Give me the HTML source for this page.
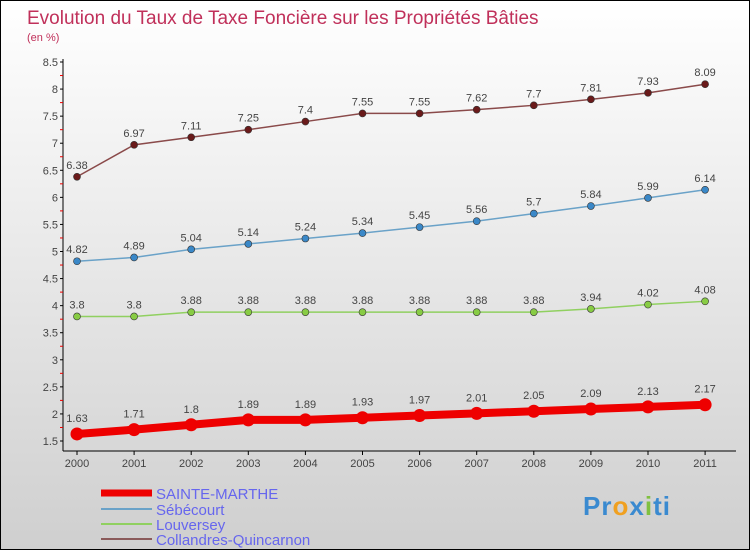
<!DOCTYPE html>
<html><head><meta charset="utf-8"><style>
body{margin:0}
#c{width:748px;height:548px;border:1px solid #000;background:linear-gradient(#ffffff,#cfcfcf);position:relative;overflow:hidden;font-family:"Liberation Sans",sans-serif}
</style></head><body>
<div id="c">
<svg id="s" width="748" height="548" xmlns="http://www.w3.org/2000/svg">
<text x="26" y="23" font-size="19" fill="#c0305a">Evolution du Taux de Taxe Foncière sur les Propriétés Bâties</text>
<text x="26" y="40" font-size="11" fill="#c0305a">(en %)</text>
<g id="axes"></g><g id="series"></g>
<g>
<line x1="100" y1="492" x2="151" y2="492" stroke="#ee0000" stroke-width="7"/>
<text x="155" y="498" font-size="15" fill="#6666ee">SAINTE-MARTHE</text>
<line x1="100" y1="508" x2="151" y2="508" stroke="#6aa2c8" stroke-width="2"/>
<text x="155" y="514" font-size="15" fill="#6666ee">Sébécourt</text>
<line x1="100" y1="523" x2="151" y2="523" stroke="#90d060" stroke-width="2"/>
<text x="155" y="529" font-size="15" fill="#6666ee">Louversey</text>
<line x1="100" y1="538" x2="151" y2="538" stroke="#8a5a5a" stroke-width="2"/>
<text x="155" y="544" font-size="15" fill="#6666ee">Collandres-Quincarnon</text>
</g>
</svg>
<div style="position:absolute;left:582px;top:490px;font-size:26px;font-weight:bold;font-family:'Liberation Sans',sans-serif;letter-spacing:1px"><span style="color:#3a8ad0">Pr</span><span style="color:#f0a020">o</span><span style="color:#3a8ad0">x</span><span style="color:#80c040">i</span><span style="color:#3a8ad0">ti</span></div>
</div>
<script>
const years=[2000,2001,2002,2003,2004,2005,2006,2007,2008,2009,2010,2011];
const sainteMarthe=[1.63,1.71,1.8,1.89,1.89,1.93,1.97,2.01,2.05,2.09,2.13,2.17];
const sebecourt=[4.82,4.89,5.04,5.14,5.24,5.34,5.45,5.56,5.7,5.84,5.99,6.14];
const louversey=[3.8,3.8,3.88,3.88,3.88,3.88,3.88,3.88,3.88,3.94,4.02,4.08];
const collandres=[6.38,6.97,7.11,7.25,7.4,7.55,7.55,7.62,7.7,7.81,7.93,8.09];
const yTicks=[1.5,2,2.5,3,3.5,4,4.5,5,5.5,6,6.5,7,7.5,8,8.5];
const NS="http://www.w3.org/2000/svg";
const xS=i=>76+i*57.1;
const yS=v=>440-(v-1.5)*(379/7);
function mk(t,a,p){const e=document.createElementNS(NS,t);for(const k in a)e.setAttribute(k,a[k]);p.appendChild(e);return e;}
const ax=document.getElementById('axes');
let e=mk('line',{x1:62,y1:58,x2:62,y2:450,stroke:'#000'},ax);


e=mk('line',{x1:62,y1:450,x2:735,y2:450,stroke:'#000'},ax);


yTicks.forEach((v,i)=>{
 mk('line',{x1:59,y1:yS(v),x2:62,y2:yS(v),stroke:'#000'},ax);
 if(i<yTicks.length-1) mk('line',{x1:59,y1:yS(v+0.25),x2:62,y2:yS(v+0.25),stroke:'#e00'},ax);
 const t=mk('text',{x:57,y:yS(v)+4,'font-size':11,fill:'#444','text-anchor':'end'},ax);t.textContent=String(v);
 
 
});
years.forEach((y,i)=>{
 mk('line',{x1:xS(i),y1:450,x2:xS(i),y2:454,stroke:'#000'},ax);
 const t=mk('text',{x:xS(i),y:466,'font-size':11,fill:'#444','text-anchor':'middle'},ax);t.textContent=y;
 
 
});
const sg=document.getElementById('series');
function series(vals,col,w,r,name,fill){
 const g=mk('g',{},sg);
 
 
 mk('polyline',{points:vals.map((v,i)=>xS(i)+','+yS(v)).join(' '),fill:'none',stroke:col,'stroke-width':w},g);
 vals.forEach((v,i)=>{
  const c=mk('circle',{cx:xS(i),cy:yS(v),r:r,fill:fill,stroke:w>3?fill:'#333','stroke-width':w>3?0:0.6},g);
  
  
  const t=mk('text',{x:xS(i),y:yS(v)-(w>3?12:8),'font-size':11,fill:'#444','text-anchor':'middle'},g);
  t.textContent=String(v);
  
  
 });
}
series(collandres,'#8a4a4a',1.5,3.5,'series-collandres','#6a1a1a');
series(sebecourt,'#6aa2c8',1.5,3.5,'series-sebecourt','#3a88c8');
series(louversey,'#90d060',1.5,3.5,'series-louversey','#88cc44');
series(sainteMarthe,'#ee0000',8,6.5,'series-sainte-marthe','#ee0000');
</script>
</body></html>
